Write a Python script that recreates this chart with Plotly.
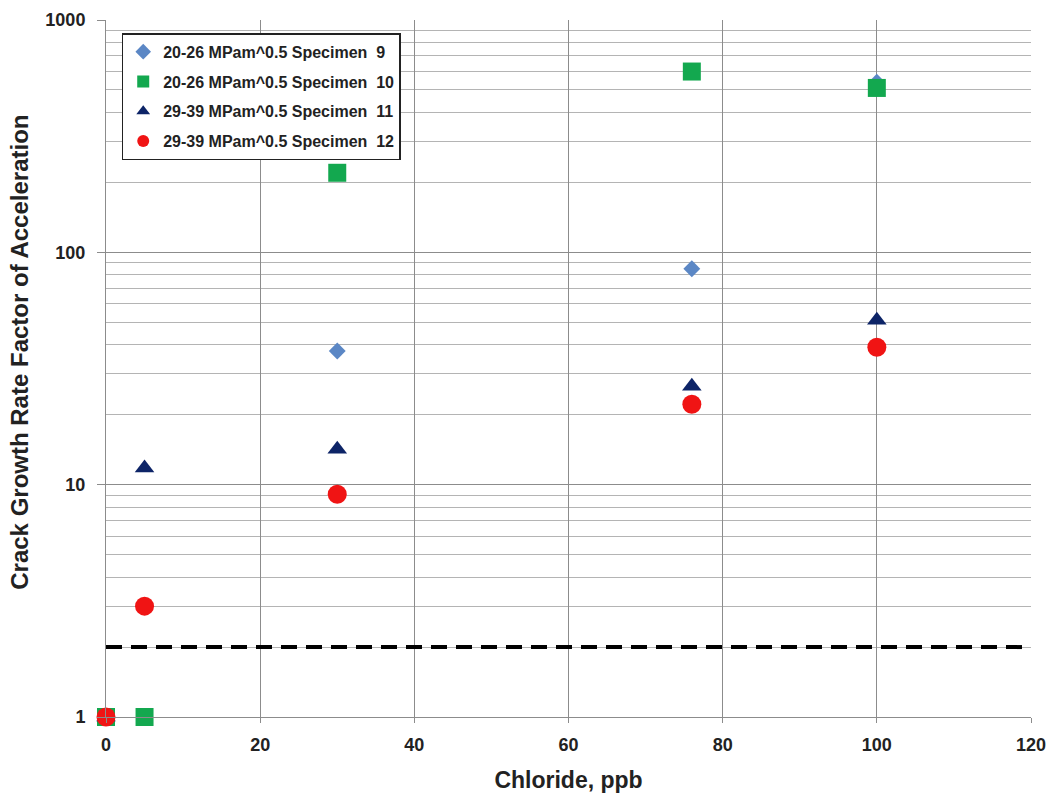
import plotly.graph_objects as go

# Chloride concentration (ppb) and crack growth rate acceleration factors
chloride_s9 = [0, 30, 76, 100]
factor_s9 = [1, 37.6, 85, 540]

chloride_s10 = [0, 5, 30, 76, 100]
factor_s10 = [1, 1, 220, 600, 510]

chloride_s11 = [0, 5, 30, 76, 100]
factor_s11 = [1, 11.8, 14.2, 26.5, 51]

chloride_s12 = [0, 5, 30, 76, 100]
factor_s12 = [1, 3.0, 9.1, 22.2, 39]

threshold_x = [0, 120]
threshold_y = [2, 2]

NB = "\u00a0"
names = [
    "20-26 MPam^0.5 Specimen" + NB + " 9",
    "20-26 MPam^0.5 Specimen" + NB + " 10",
    "29-39 MPam^0.5 Specimen" + NB + " 11",
    "29-39 MPam^0.5 Specimen" + NB + " 12",
]

fig = go.Figure()

fig.add_trace(go.Scatter(
    x=threshold_x, y=threshold_y, mode="lines",
    line=dict(color="black", width=4, dash="16px,9px"),
    showlegend=False, hoverinfo="skip",
))

series = [
    (chloride_s9, factor_s9, "diamond", 13, "#5B87C5"),
    (chloride_s10, factor_s10, "square", 18, "#13A84F"),
    (chloride_s11, factor_s11, "triangle-up", 17, "#0D2467"),
    (chloride_s12, factor_s12, "circle", 19, "#F01414"),
]
for i, (xs, ys, sym, size, col) in enumerate(series):
    fig.add_trace(go.Scatter(
        x=xs, y=ys, mode="markers", name=names[i], legendgroup=f"g{i}",
        marker=dict(symbol=sym, size=size, color=col),
        cliponaxis=False,
    ))

minor_vals = [m * 10 ** d for d in range(3) for m in range(2, 10)]

fig.update_layout(
    width=1051, height=796,
    margin=dict(l=106, r=20, t=20, b=79),
    paper_bgcolor="white", plot_bgcolor="white",
    font=dict(family="Liberation Sans, Arial, sans-serif", color="#222222"),
    legend=dict(
        x=0.017, y=0.981, xanchor="left", yanchor="top",
        bgcolor="white", bordercolor="#222222", borderwidth=1.5,
        font=dict(size=16, family="Liberation Sans, Arial, sans-serif", color="#222222", weight="bold"),
        itemsizing="constant", tracegroupgap=6, itemwidth=30,
    ),
    showlegend=True,
    annotations=[dict(
        text="Crack Growth Rate Factor of Acceleration",
        textangle=-90, xref="paper", yref="paper",
        x=-0.093, y=0.524, xanchor="center", yanchor="middle",
        showarrow=False,
        font=dict(size=24, weight="bold", color="#222222"),
    )],
)

fig.update_xaxes(
    range=[0, 120], tickvals=[0, 20, 40, 60, 80, 100, 120],
    automargin=False,
    showgrid=True, gridcolor="#8c8c8c", gridwidth=1,
    showline=True, linecolor="#8c8c8c", linewidth=1,
    ticks="outside", ticklen=5, tickcolor="#8c8c8c", ticklabelstandoff=6,
    zeroline=False,
    tickfont=dict(size=18, weight="bold", color="#222222"),
    title=dict(text="Chloride, ppb", font=dict(size=23, weight="bold", color="#222222"), standoff=18),
)

fig.update_yaxes(
    type="log", range=[0, 3], tickvals=[1, 10, 100, 1000],
    ticktext=["1", "10", "100", "1000"],
    automargin=False,
    showgrid=True, gridcolor="#8c8c8c", gridwidth=1,
    minor=dict(tickvals=minor_vals, showgrid=True, gridcolor="#b4b4b4", gridwidth=1, ticks=""),
    showline=True, linecolor="#8c8c8c", linewidth=1,
    ticks="outside", ticklen=8, tickcolor="#8c8c8c", ticklabelstandoff=8,
    zeroline=False,
    tickfont=dict(size=18, weight="bold", color="#222222"),
)

fig.write_html("out.html")
